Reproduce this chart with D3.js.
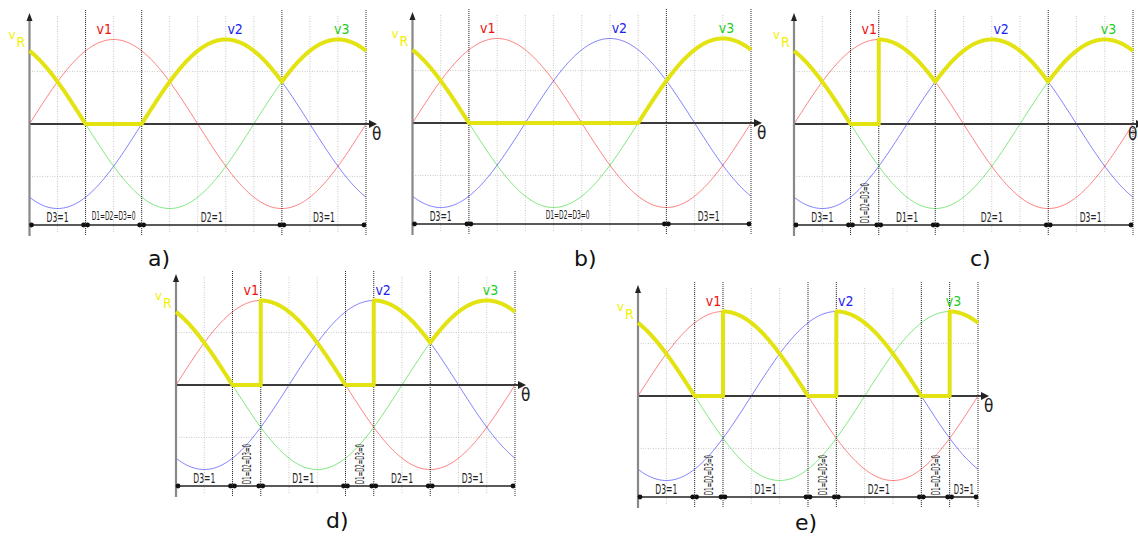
<!DOCTYPE html>
<html>
<head>
<meta charset="utf-8">
<script src="https://cdn.jsdelivr.net/npm/d3@7"></script>
<style>
  html, body { margin: 0; padding: 0; background: #fff; }
  svg { display: block; }
</style>
</head>
<body>
<script>
// Three-phase rectifier output v_R for five firing cases, over one period (degrees).
const panelNames = ["a)", "b)", "c)", "d)", "e)"];
const phaseNames = ["v1", "v2", "v3"];
const phaseShift = [0, 120, 240];            // v_k = sin(theta - shift)
const phaseColors = ["#ff0000", "#0000ff", "#00d000"];
const phaseLabelColors = ["#ee1111", "#2222ee", "#22cc22"];
const phaseLabelAngle = [80, 220, 334];      // where each phase name sits

// Conduction interval boundaries (degrees) for each case
const conductionBounds = [
  [0, 60, 120, 270, 360],
  [0, 60, 270, 360],
  [0, 60, 90, 150, 270, 360],
  [0, 60, 90, 180, 210, 270, 360],
  [0, 60, 90, 180, 210, 300, 330, 360]
];
// Diode state written under each interval
const conductionLabels = [
  ["D3=1", "D1=D2=D3=0", "D2=1", "D3=1"],
  ["D3=1", "D1=D2=D3=0", "D3=1"],
  ["D3=1", "D1=D2=D3=0", "D1=1", "D2=1", "D3=1"],
  ["D3=1", "D1=D2=D3=0", "D1=1", "D1=D2=D3=0", "D2=1", "D3=1"],
  ["D3=1", "D1=D2=D3=0", "D1=1", "D1=D2=D3=0", "D2=1", "D1=D2=D3=0", "D3=1"]
];
// Output pieces: [from, to, phase] where phase 0 means v_R = 0
const outputPieces = [
  [[0, 60, 3], [60, 120, 0], [120, 270, 2], [270, 360, 3]],
  [[0, 60, 3], [60, 240, 0], [240, 360, 3]],
  [[0, 60, 3], [60, 90, 0], [90, 150, 1], [150, 270, 2], [270, 360, 3]],
  [[0, 60, 3], [60, 90, 0], [90, 180, 1], [180, 210, 0], [210, 270, 2], [270, 360, 3]],
  [[0, 60, 3], [60, 90, 0], [90, 180, 1], [180, 210, 0], [210, 300, 2], [300, 330, 0], [330, 360, 3]]
];
const gridAngles = [30, 60, 90, 120, 150, 180, 210, 240, 270, 300, 330];
const gridLevels = [0.62, -0.62];

// Where each case is placed on the page
const layout = [
  { x0: 29.5, x1: 366, y0: 124, lx: 148, ly: 266 },
  { x0: 412.5, x1: 751, y0: 123, lx: 574, ly: 266 },
  { x0: 794, x1: 1133, y0: 124, lx: 970, ly: 266 },
  { x0: 176, x1: 515, y0: 385, lx: 326, ly: 528 },
  { x0: 638, x1: 978, y0: 396, lx: 795, ly: 530 }
];
const amp = 84.5;

const W = 1138, H = 539;
const FONT = "DejaVu Sans Condensed, DejaVu Sans, sans-serif";
const svg = d3.select("body").append("svg").attr("width", W).attr("height", H);

const wave = (k, t) => Math.sin((t - phaseShift[k]) * Math.PI / 180);

layout.forEach((L, i) => {
  const x = d3.scaleLinear().domain([0, 360]).range([L.x0, L.x1]);
  const y = d3.scaleLinear().domain([-1, 1]).range([L.y0 + amp, L.y0 - amp]);
  const g = svg.append("g");
  const top = L.y0 - 114, bottom = L.y0 + 112;

  // light grid
  g.selectAll(".gv").data(gridAngles).join("line")
    .attr("x1", d => x(d)).attr("x2", d => x(d))
    .attr("y1", L.y0 - 108).attr("y2", L.y0 + 108)
    .attr("stroke", "#c8c8c8").attr("stroke-width", 1).attr("stroke-dasharray", "1,1.5");
  g.selectAll(".gh").data(gridLevels).join("line")
    .attr("x1", x(0)).attr("x2", x(360))
    .attr("y1", d => y(d)).attr("y2", d => y(d))
    .attr("stroke", "#c8c8c8").attr("stroke-width", 1).attr("stroke-dasharray", "1,1.5");

  // phase voltages
  const samples = d3.range(0, 360.01, 1);
  const line = d3.line().x(d => x(d[0])).y(d => y(d[1]));
  phaseShift.forEach((s, k) => {
    g.append("path")
      .attr("d", line(samples.map(t => [t, wave(k, t)])))
      .attr("fill", "none").attr("stroke", phaseColors[k])
      .attr("stroke-opacity", 0.5).attr("stroke-width", 1);
  });

  // interval boundaries
  const bounds = conductionBounds[i];
  g.selectAll(".bd").data(bounds.slice(1)).join("line")
    .attr("x1", d => x(d)).attr("x2", d => x(d))
    .attr("y1", top).attr("y2", bottom)
    .attr("stroke", "#333").attr("stroke-width", 1).attr("stroke-dasharray", "1,1");

  // theta axis
  g.append("line")
    .attr("x1", x(0)).attr("x2", x(360) + 6)
    .attr("y1", L.y0).attr("y2", L.y0)
    .attr("stroke", "#3a3a3a").attr("stroke-width", 2.2);
  const tip = x(360) + 11;
  g.append("path")
    .attr("d", `M${tip},${L.y0} L${tip - 8},${L.y0 - 4} L${tip - 8},${L.y0 + 4} Z`)
    .attr("fill", "#222");
  g.append("text")
    .attr("x", Math.min(x(360) + 6, W - 10)).attr("y", L.y0 + 16)
    .attr("font-family", FONT)
    .attr("font-size", 17).attr("fill", "#222").text("θ");

  // vertical axis
  g.append("line")
    .attr("x1", x(0)).attr("x2", x(0))
    .attr("y1", L.y0 - 104).attr("y2", L.y0 + 112)
    .attr("stroke", "#888").attr("stroke-width", 2.2);
  g.append("path")
    .attr("d", `M${x(0)},${L.y0 - 111} L${x(0) - 3},${L.y0 - 103} L${x(0) + 3},${L.y0 - 103} Z`)
    .attr("fill", "#222");

  // rectified output
  const pts = [];
  outputPieces[i].forEach(([a, b, k]) => {
    d3.range(a, b + 0.001, 1).forEach(t => pts.push([t, k === 0 ? 0 : wave(k - 1, t)]));
  });
  g.append("path")
    .attr("d", line(pts))
    .attr("fill", "none").attr("stroke", "#e3e312")
    .attr("stroke-width", 4).attr("stroke-linejoin", "round");

  // phase names
  phaseNames.forEach((n, k) => {
    g.append("text")
      .attr("x", x(phaseLabelAngle[k])).attr("y", L.y0 - 90)
      .attr("text-anchor", "middle")
      .attr("font-family", FONT)
      .attr("font-size", 14).attr("fill", phaseLabelColors[k]).text(n);
  });

  // v_R label
  const vr = g.append("text")
    .attr("x", x(0) - 21).attr("y", L.y0 - 85)
    .attr("font-family", FONT)
    .attr("font-size", 13).attr("fill", "#f0f000");
  vr.append("tspan").text("v");
  vr.append("tspan").attr("dy", 8).attr("dx", 1).attr("font-size", 14).text("R");

  // conduction intervals
  const segs = d3.pairs(bounds);
  const yArrow = L.y0 + 101;
  segs.forEach(([a, b], j) => {
    const xa = x(a) + 2, xb = x(b) - 2;
    g.append("line")
      .attr("x1", xa).attr("x2", xb).attr("y1", yArrow).attr("y2", yArrow)
      .attr("stroke", "#222").attr("stroke-width", 1.5);
    [xa, xb].forEach(xx => g.append("circle")
      .attr("cx", xx).attr("cy", yArrow).attr("r", 2.4).attr("fill", "#111"));

    const label = conductionLabels[i][j];
    const cx = (x(a) + x(b)) / 2;
    const t = g.append("text")
      .attr("font-family", FONT)
      .attr("fill", "#222").attr("text-anchor", "middle")
      .attr("lengthAdjust", "spacingAndGlyphs")
      .text(label);
    const long = label.length > 5;
    if (long && b - a <= 30) {
      t.attr("font-size", 12.5).attr("textLength", 40)
        .attr("dominant-baseline", "central")
        .attr("transform", `translate(${cx},${L.y0 + 79}) rotate(-90)`);
    } else if (long) {
      t.attr("font-size", 12.5).attr("textLength", 44)
        .attr("x", cx).attr("y", L.y0 + 96);
    } else {
      t.attr("font-size", 14).attr("textLength", b - a <= 30 ? 20 : 22)
        .attr("x", cx).attr("y", L.y0 + 98);
    }
  });

  // case letter
  svg.append("text")
    .attr("x", L.lx).attr("y", L.ly)
    .attr("font-family", "DejaVu Sans, sans-serif")
    .attr("font-size", 22).attr("fill", "#111").text(panelNames[i]);
});
</script>
</body>
</html>
